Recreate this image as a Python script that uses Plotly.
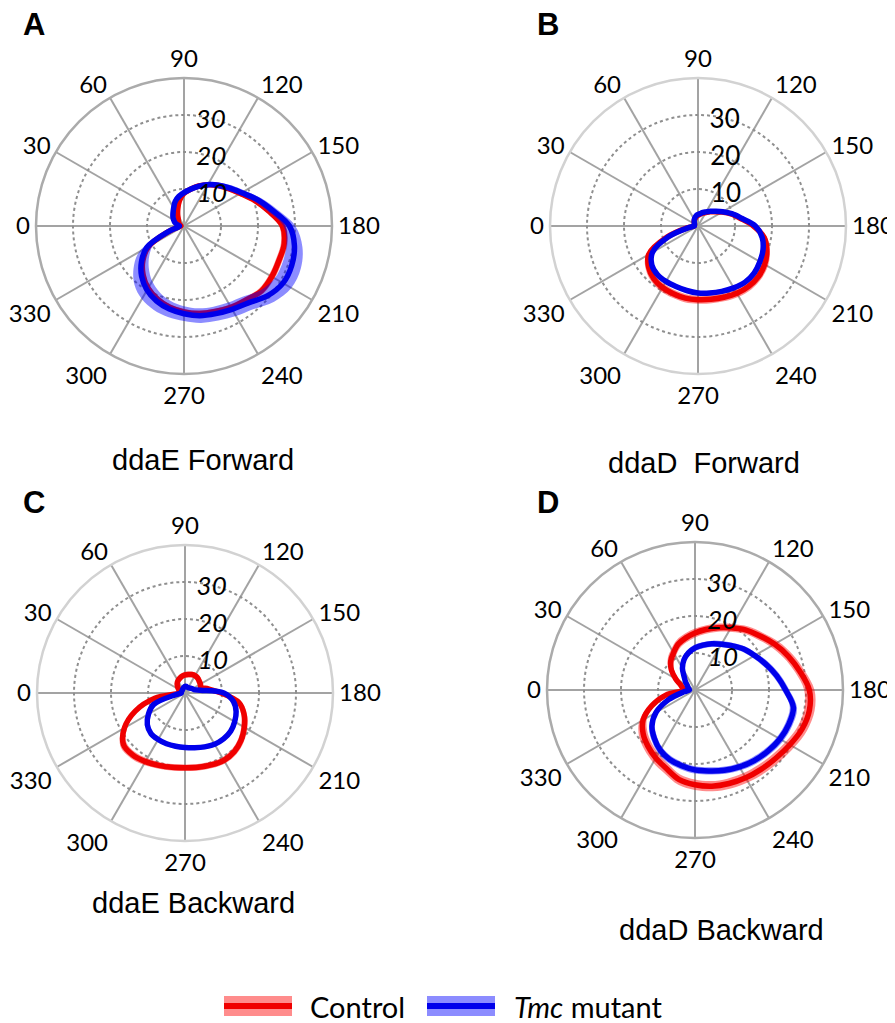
import numpy as np
import plotly.graph_objects as go

# page is 895x1023; the HTML body adds an 8px margin, so the figure is 887x1015
PAGE_MARGIN = 8
W, H = 895 - PAGE_MARGIN, 1023 - PAGE_MARGIN

# angles (degrees), 0 at left, increasing clockwise (90 at top)
theta = [0, 10, 20, 30, 40, 50, 60, 70, 80, 90, 100, 110, 120, 130, 140, 150, 160, 170,
         180, 190, 200, 210, 220, 230, 240, 250, 260, 270, 280, 290, 300, 310, 320, 330, 340, 350]
angle_ticks = [0, 30, 60, 90, 120, 150, 180, 210, 240, 270, 300, 330]
radial_ticks = [10, 20, 30]

# ---- A: ddaE Forward
a_ctrl = [0.8, 1.0, 1.3, 1.6, 2.0, 2.4, 3.4, 4.9, 7.0, 8.8, 10.1, 11.5, 12.9, 14.3, 15.7, 17.6, 20.3, 23.2,
          26.6, 27.5, 27.3, 27.4, 27.3, 26.1, 25.4, 24.6, 24.0, 23.2, 22.3, 21.0, 19.4, 17.2, 14.5, 11.0, 4.6, 1.6]
a_ctrl_sem = [0.5, 0.5, 0.5, 0.6, 0.6, 0.6, 0.6, 0.7, 0.7, 0.7, 0.7, 0.7, 0.7, 0.7, 0.7, 0.8, 0.8, 0.8,
              0.9, 0.9, 0.9, 0.9, 0.9, 0.8, 0.8, 0.8, 0.8, 0.8, 0.8, 0.8, 0.8, 0.8, 0.7, 0.7, 0.6, 0.5]
a_tmc = [1.2, 1.8, 2.6, 3.2, 3.9, 4.6, 5.6, 7.0, 8.1, 9.0, 10.1, 11.4, 12.9, 14.4, 16.0, 18.0, 21.0, 24.3,
         28.5, 30.3, 31.0, 30.9, 29.4, 27.1, 26.0, 25.2, 24.6, 23.7, 22.8, 21.6, 20.0, 17.8, 15.0, 11.6, 4.6, 1.6]
a_tmc_sem = [0.5, 0.6, 0.7, 0.8, 0.9, 0.9, 0.9, 0.9, 0.9, 0.9, 0.9, 0.9, 0.9, 0.9, 1.0, 1.0, 1.1, 1.3,
             1.6, 2.2, 2.6, 2.6, 2.4, 2.2, 2.1, 2.0, 2.0, 2.0, 2.2, 2.5, 2.8, 3.0, 2.8, 2.4, 1.6, 0.8]

# ---- B: ddaD Forward
b_ctrl = [1.0, 1.0, 1.0, 1.1, 1.3, 1.6, 1.9, 2.2, 2.6, 2.9, 3.2, 3.7, 4.2, 5.0, 6.0, 7.5, 9.5, 11.7,
          15.0, 18.2, 19.8, 20.8, 21.3, 21.3, 21.0, 20.5, 20.1, 19.9, 19.8, 19.5, 19.2, 18.6, 17.4, 15.4, 9.0, 3.0]
b_ctrl_sem = [0.4, 0.4, 0.4, 0.4, 0.4, 0.4, 0.4, 0.4, 0.5, 0.5, 0.5, 0.5, 0.5, 0.5, 0.5, 0.5, 0.6, 0.6,
              0.7, 0.8, 0.9, 1.0, 1.0, 1.1, 1.1, 1.1, 1.1, 1.1, 1.1, 1.1, 1.1, 1.0, 1.0, 0.9, 0.7, 0.5]
b_tmc = [1.0, 1.0, 1.0, 1.1, 1.3, 1.6, 2.0, 2.4, 2.8, 3.1, 3.4, 3.9, 4.4, 5.2, 6.2, 7.7, 9.7, 12.0,
         15.5, 17.6, 18.7, 19.3, 19.8, 19.8, 19.3, 18.8, 18.4, 18.1, 17.7, 17.4, 17.3, 17.1, 16.3, 14.2, 8.5, 2.6]
b_tmc_sem = [0.4, 0.4, 0.4, 0.4, 0.4, 0.4, 0.4, 0.4, 0.5, 0.5, 0.5, 0.5, 0.5, 0.5, 0.5, 0.5, 0.5, 0.6,
             0.6, 0.6, 0.6, 0.6, 0.6, 0.6, 0.6, 0.6, 0.6, 0.6, 0.6, 0.6, 0.6, 0.6, 0.6, 0.6, 0.5, 0.4]

# ---- C: ddaE Backward
c_ctrl = [1.5, 1.4, 1.6, 2.0, 2.6, 3.3, 3.8, 4.2, 4.6, 4.9, 5.1, 5.3, 5.4, 5.3, 5.0, 4.8, 4.6, 6.4,
          9.8, 14.8, 17.0, 18.5, 19.8, 20.7, 21.0, 20.7, 20.4, 20.2, 20.4, 20.8, 21.4, 21.9, 21.7, 18.9, 14.3, 8.3]
c_ctrl_sem = [0.6, 0.6, 0.7, 0.7, 0.8, 0.8, 0.8, 0.8, 0.8, 0.8, 0.8, 0.8, 0.8, 0.8, 0.8, 0.8, 0.8, 0.8,
              0.8, 0.9, 0.9, 0.9, 0.9, 0.9, 0.9, 0.9, 0.9, 0.9, 0.9, 0.9, 1.0, 1.0, 1.0, 1.0, 0.9, 0.8]
c_tmc = [1.0, 1.0, 1.0, 1.0, 1.0, 1.1, 1.2, 1.4, 1.6, 1.8, 1.8, 1.7, 1.7, 1.8, 2.0, 2.3, 2.6, 4.2,
         10.5, 13.3, 14.7, 15.5, 16.1, 16.2, 16.0, 15.5, 15.0, 14.7, 14.6, 14.6, 14.5, 14.3, 13.3, 11.4, 9.0, 2.5]
c_tmc_sem = [0.4, 0.4, 0.4, 0.4, 0.4, 0.4, 0.4, 0.4, 0.4, 0.4, 0.4, 0.4, 0.4, 0.4, 0.4, 0.4, 0.5, 0.5,
             0.6, 0.6, 0.6, 0.6, 0.6, 0.6, 0.6, 0.6, 0.6, 0.6, 0.6, 0.6, 0.6, 0.6, 0.6, 0.6, 0.5, 0.4]

# ---- D: ddaD Backward
d_ctrl = [3.0, 3.4, 4.2, 6.0, 8.3, 10.2, 11.6, 13.2, 14.3, 15.4, 16.6, 17.9, 19.4, 21.2, 22.8, 24.8, 26.8, 28.8,
          30.9, 31.4, 30.8, 29.6, 28.6, 27.9, 27.4, 26.9, 26.4, 25.6, 24.6, 22.6, 21.2, 19.8, 18.3, 16.2, 12.4, 8.0]
d_ctrl_sem = [0.8, 0.9, 1.0, 1.1, 1.2, 1.2, 1.2, 1.2, 1.2, 1.2, 1.2, 1.2, 1.2, 1.2, 1.2, 1.3, 1.3, 1.3,
              1.4, 1.4, 1.4, 1.4, 1.4, 1.4, 1.4, 1.4, 1.4, 1.4, 1.4, 1.4, 1.4, 1.4, 1.4, 1.3, 1.2, 1.0]
d_tmc = [1.5, 1.7, 2.0, 2.4, 3.3, 4.5, 6.8, 8.7, 10.2, 11.4, 12.3, 13.3, 14.3, 15.6, 17.2, 18.6, 20.4, 22.4,
         24.5, 27.0, 27.0, 26.5, 25.7, 24.9, 24.0, 23.1, 22.2, 21.6, 20.8, 20.0, 18.8, 17.1, 15.2, 12.2, 7.6, 3.2]
d_tmc_sem = [0.5, 0.6, 0.6, 0.7, 0.8, 0.9, 0.9, 0.9, 0.9, 0.9, 0.9, 0.9, 0.9, 0.9, 0.9, 0.9, 1.0, 1.0,
             1.0, 1.0, 1.0, 1.0, 1.0, 1.0, 1.0, 1.0, 1.0, 1.0, 1.0, 1.0, 1.0, 1.0, 1.0, 1.0, 0.9, 0.6]

panel_letters = ["A", "B", "C", "D"]
panel_titles = ["ddaE Forward", "ddaD&nbsp;&nbsp;Forward", "ddaE Backward", "ddaD Backward"]
series_names = ["Control", "<i>Tmc</i> mutant"]

RED, RED_BAND = "rgb(240,0,0)", "rgba(255,0,0,0.45)"
BLUE, BLUE_BAND = "rgb(0,0,235)", "rgba(0,0,255,0.45)"

panels = [
    (a_ctrl, a_ctrl_sem, a_tmc, a_tmc_sem),
    (b_ctrl, b_ctrl_sem, b_tmc, b_tmc_sem),
    (c_ctrl, c_ctrl_sem, c_tmc, c_tmc_sem),
    (d_ctrl, d_ctrl_sem, d_tmc, d_tmc_sem),
]

# layout geometry (page pixels): centre and radius of each polar plot
centres = [(184, 226), (698, 226), (185, 693), (695, 690)]
RADIUS = 148
RADIAL_ANGLE = 91


def px_x(x):
    return (x - PAGE_MARGIN) / W


def px_y(y):
    return 1 - (y - PAGE_MARGIN) / H


fig = go.Figure()

for i, (rc, sc, rt, st) in enumerate(panels):
    sub = "polar" if i == 0 else f"polar{i + 1}"
    for r, s, core, band in [(rc, sc, RED, RED_BAND), (rt, st, BLUE, BLUE_BAND)]:
        th = np.array(theta + [360])
        rr = np.array(r + [r[0]])
        ss = np.array(s + [s[0]])
        outer = rr + ss
        inner = np.clip(rr - ss, 0, None)
        fig.add_trace(go.Scatterpolar(
            theta=np.concatenate([th, th[::-1]]),
            r=np.concatenate([outer, inner[::-1]]),
            mode="lines", fill="toself", fillcolor=band,
            line=dict(width=0, color=band, shape="spline", smoothing=1.0),
            subplot=sub, showlegend=False, hoverinfo="skip"))
        fig.add_trace(go.Scatterpolar(
            theta=th, r=rr, mode="lines",
            line=dict(width=5.5, color=core, shape="spline", smoothing=1.0),
            subplot=sub, showlegend=False))

layout_polars = {}
for i, (cx, cy) in enumerate(centres):
    name = "polar" if i == 0 else f"polar{i + 1}"
    italic = "normal" if i == 1 else "italic"
    outer_col = "#d2d2d2" if i in (1, 2) else "#ababab"
    layout_polars[name] = dict(
        domain=dict(x=[px_x(cx - RADIUS), px_x(cx + RADIUS)],
                    y=[px_y(cy + RADIUS), px_y(cy - RADIUS)]),
        bgcolor="white",
        angularaxis=dict(
            rotation=180, direction="clockwise",
            tickmode="array", tickvals=angle_ticks,
            ticktext=[str(v) for v in angle_ticks],
            showgrid=True, gridcolor="#a3a3a3", gridwidth=2,
            showline=True, linecolor=outer_col, linewidth=2.5,
            ticks="", tickfont=dict(family="Lato", size=24, color="black"),
        ),
        radialaxis=dict(
            range=[0, 40], tickmode="array", tickvals=radial_ticks,
            ticktext=[str(v) for v in radial_ticks],
            showgrid=True, gridcolor="#8f8f8f", gridwidth=2, griddash="dot",
            showline=False, ticks="", angle=RADIAL_ANGLE, side="clockwise",
            tickangle=RADIAL_ANGLE,
            tickfont=dict(family="Lato", size=26, color="black", style=italic),
        ),
    )

annotations = []
letter_pos = [(21, 24), (535, 24), (21, 503), (535, 503)]
for (x, y), letter in zip(letter_pos, panel_letters):
    annotations.append(dict(x=px_x(x), y=px_y(y), xref="paper", yref="paper",
                            xanchor="left", yanchor="middle", showarrow=False,
                            text=f"<b>{letter}</b>",
                            font=dict(family="Liberation Sans", size=31, color="black")))
title_pos = [(203, 460), (704, 463), (193, 903), (721, 930)]
for (x, y), t in zip(title_pos, panel_titles):
    annotations.append(dict(x=px_x(x), y=px_y(y), xref="paper", yref="paper",
                            xanchor="center", yanchor="middle", showarrow=False,
                            text=t, font=dict(family="Liberation Sans", size=29, color="black")))

# legend (drawn as key swatches + text)
shapes = []
legend_y = 1006
for (x0, x1, tx), name, core, band in [((224, 292, 308), series_names[0], RED, RED_BAND),
                                       ((427, 495, 512), series_names[1], BLUE, BLUE_BAND)]:
    shapes.append(dict(type="line", xref="paper", yref="paper",
                       x0=px_x(x0), x1=px_x(x1), y0=px_y(legend_y), y1=px_y(legend_y),
                       line=dict(color=band, width=20)))
    shapes.append(dict(type="line", xref="paper", yref="paper",
                       x0=px_x(x0), x1=px_x(x1), y0=px_y(legend_y), y1=px_y(legend_y),
                       line=dict(color=core, width=6)))
    annotations.append(dict(x=px_x(tx), y=px_y(legend_y), xref="paper", yref="paper",
                            xanchor="left", yanchor="middle", showarrow=False, text=name,
                            font=dict(family="Lato", size=29, color="black")))

fig.update_layout(
    width=W, height=H, margin=dict(l=0, r=0, t=0, b=0),
    paper_bgcolor="white", plot_bgcolor="white",
    showlegend=False, annotations=annotations, shapes=shapes,
    **layout_polars,
)

fig.write_html("out.html")
